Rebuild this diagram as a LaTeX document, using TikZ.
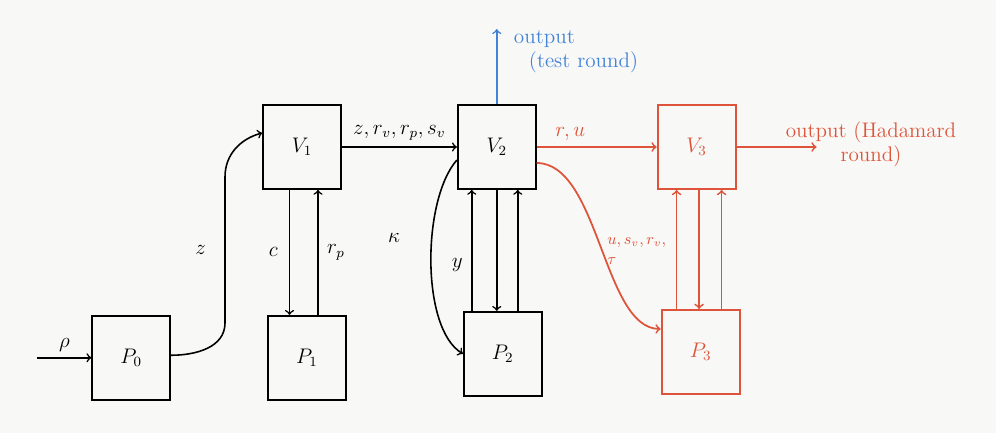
\documentclass[tikz,border=0pt]{standalone}
\usetikzlibrary{positioning}
\definecolor{hadred}{RGB}{222,84,58}
\definecolor{testblue}{RGB}{66,130,216}
\definecolor{paper}{RGB}{248,248,246}
\begin{document}
\begin{tikzpicture}[
  box/.style={draw, line width=1pt, minimum width=1.56cm, minimum height=1.68cm, font=\large},
  redbox/.style={box, draw=hadred, text=hadred, line width=1.1pt},
  flow/.style={->, line width=0.9pt},
  redflow/.style={flow, draw=hadred, line width=1pt},
  lbl/.style={font=\large},
  node distance=2.4cm
]
\fill[paper] (0,0) rectangle (19.92,8.66);
\useasboundingbox (0,0) rectangle (19.92,8.66);
\node[box] (V1) at (6.04,5.72) {$V_1$};
\node[box, right=2.3cm of V1] (V2) {$V_2$};
\node[redbox, right=2.4cm of V2] (V3) {$V_3$};
\node[box, below=2.5cm of V1, xshift=0.1cm] (P1) {$P_1$};
\node[box, below=2.42cm of V2, xshift=0.12cm] (P2) {$P_2$};
\node[redbox, below=2.38cm of V3, xshift=0.08cm] (P3) {$P_3$};
\node[box, left=2cm of P1, xshift=0.08cm] (P0) {$P_0$};
\coordinate[left=1.08cm of P0.west] (rhoin);
\coordinate (zlow) at (4.5,2.2);
\coordinate (zhigh) at (4.5,5.12);
\coordinate[above=1.5cm of V2.north] (testout);
\coordinate[right=1.6cm of V3.east] (hadout);
\draw[flow] (rhoin) -- node[above, lbl] {$\rho$} (P0.west);
\draw[flow] ([yshift=0.05cm]P0.east) to[out=0, in=-90] (zlow) -- node[left=0.25cm, lbl] {$z$} (zhigh)
  to[out=90, in=195] ([yshift=0.28cm]V1.west);
\draw[flow] (V1.east) -- node[above, lbl] {$z, r_v, r_p, s_v$} (V2.west);
\draw[flow] ([xshift=-0.25cm]V1.south) -- ([xshift=-0.25cm]V1.south |- P1.north)
  node[midway, left=0.1cm, lbl] {$c$};
\draw[flow] ([xshift=0.32cm]V1.south |- P1.north) -- ([xshift=0.32cm]V1.south)
  node[midway, right=0.05cm, lbl] {$r_p$};
\draw[flow] ([yshift=-0.26cm]V2.west) .. controls +(-0.7,-0.8) and +(-0.84,0.5) .. (P2.west)
  node[pos=0.4, left=0.5cm, lbl] {$\kappa$};
\draw[flow] ([xshift=-0.5cm]V2.south |- P2.north) -- ([xshift=-0.5cm]V2.south)
  node[pos=0.38, left=0.05cm, lbl] {$y$};
\draw[flow] (V2.south) -- (V2.south |- P2.north);
\draw[flow] ([xshift=0.42cm]V2.south |- P2.north) -- ([xshift=0.42cm]V2.south);
\draw[flow, draw=testblue] (V2.north) -- (testout);
\node[anchor=north west, align=left, text=testblue, lbl] (testlabel) at ([xshift=0.22cm, yshift=0.1cm]testout) {output\\\hspace*{0.3cm}(test round)};
\draw[redflow] (V2.east) -- (V3.west) node[pos=0.28, above, lbl, text=hadred] {$r, u$};
\draw[redflow] ([yshift=-0.32cm]V2.east) .. controls +(1.25,0) and +(-1.15,0) .. ([yshift=0.46cm]P3.west)
  node[pos=0.5, anchor=west, yshift=-0.1cm, font=\small, text=hadred, align=left] {$u, s_v, r_v,$\\$\tau$};
\draw[redflow] ([xshift=-0.4cm]V3.south |- P3.north) -- ([xshift=-0.4cm]V3.south);
\draw[redflow] ([xshift=0.05cm]V3.south) -- ([xshift=0.05cm]V3.south |- P3.north);
\draw[redflow] ([xshift=0.5cm]V3.south |- P3.north) -- ([xshift=0.5cm]V3.south);
\draw[redflow] (V3.east) -- (hadout);
\node[anchor=north west, align=center, text=hadred, lbl] (hadlabel) at ([xshift=-0.74cm, yshift=0.64cm]hadout) {output (Hadamard\\round)};
\end{tikzpicture}
\end{document}
